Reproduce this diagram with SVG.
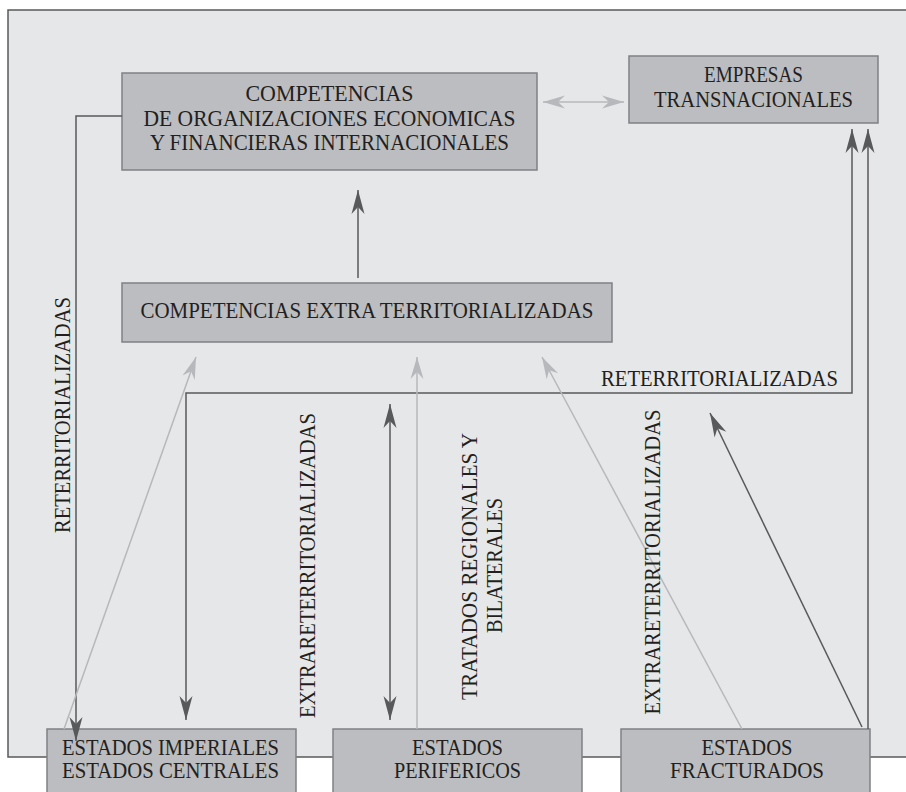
<svg xmlns="http://www.w3.org/2000/svg" width="906" height="792" viewBox="0 0 906 792">
<style>
.panel{fill:#e6e7e8;stroke:#58595b;stroke-width:1.5}
.box{fill:#bcbdc0;stroke:#808184;stroke-width:1.5}
.t{font-family:"Liberation Serif","Times New Roman",serif;font-size:22.5px;fill:#231f20;text-anchor:middle}
.dark{fill:none;stroke:#58595b;stroke-width:1.5}
.light{fill:none;stroke:#b7b8bb;stroke-width:1.5}
</style>
<defs>
<marker id="ad" markerUnits="userSpaceOnUse" markerWidth="26" markerHeight="14" viewBox="-25 -7 26 14" refX="0" refY="0" orient="auto-start-reverse">
<path d="M0,0 L-24,-6.5 L-17,0 L-24,6.5 Z" fill="#58595b"/>
</marker>
<marker id="al" markerUnits="userSpaceOnUse" markerWidth="26" markerHeight="14" viewBox="-25 -7 26 14" refX="0" refY="0" orient="auto-start-reverse">
<path d="M0,0 L-22,-6.5 L-15,0 L-22,6.5 Z" fill="#b7b8bb"/>
</marker>
</defs>
<rect x="0" y="0" width="906" height="792" fill="#ffffff"/>
<rect class="panel" x="8" y="10" width="910" height="747"/>

<g id="competencias-org">
<rect class="box" x="122" y="73" width="415" height="97"/>
<text class="t" x="329.5" y="101" textLength="168" lengthAdjust="spacingAndGlyphs">COMPETENCIAS</text>
<text class="t" x="329.5" y="126" textLength="372" lengthAdjust="spacingAndGlyphs">DE ORGANIZACIONES ECONOMICAS</text>
<text class="t" x="329.5" y="150" textLength="359" lengthAdjust="spacingAndGlyphs">Y FINANCIERAS INTERNACIONALES</text>
</g>
<g id="empresas">
<rect class="box" x="629" y="56" width="249" height="67"/>
<text class="t" x="753.5" y="82" textLength="99" lengthAdjust="spacingAndGlyphs">EMPRESAS</text>
<text class="t" x="753.5" y="107" textLength="199" lengthAdjust="spacingAndGlyphs">TRANSNACIONALES</text>
</g>
<g id="competencias-extra">
<rect class="box" x="122" y="283" width="490" height="59"/>
<text class="t" x="367" y="318" textLength="453" lengthAdjust="spacingAndGlyphs">COMPETENCIAS EXTRA TERRITORIALIZADAS</text>
</g>
<g id="estados-imperiales">
<rect class="box" x="47" y="729" width="249" height="75"/>
<text class="t" x="170.5" y="755" textLength="217" lengthAdjust="spacingAndGlyphs">ESTADOS IMPERIALES</text>
<text class="t" x="170.5" y="778" textLength="217" lengthAdjust="spacingAndGlyphs">ESTADOS CENTRALES</text>
</g>
<g id="estados-perifericos">
<rect class="box" x="333" y="729" width="249" height="75"/>
<text class="t" x="457.5" y="755" textLength="91" lengthAdjust="spacingAndGlyphs">ESTADOS</text>
<text class="t" x="457.5" y="778" textLength="127" lengthAdjust="spacingAndGlyphs">PERIFERICOS</text>
</g>
<g id="estados-fracturados">
<rect class="box" x="621" y="729" width="249" height="75"/>
<text class="t" x="747" y="755" textLength="91" lengthAdjust="spacingAndGlyphs">ESTADOS</text>
<text class="t" x="747" y="778" textLength="154" lengthAdjust="spacingAndGlyphs">FRACTURADOS</text>
</g>

<g id="connectors">
<path class="light" d="M543,102 H624" marker-start="url(#al)" marker-end="url(#al)"/>
<path class="dark" d="M358,278 V190" marker-end="url(#ad)"/>
<path class="dark" d="M122,116 H76 V741" marker-end="url(#ad)"/>
<path class="dark" d="M186,720 V393 H852 V129" marker-start="url(#ad)" marker-end="url(#ad)"/>
<path class="dark" d="M868,729 V129" marker-end="url(#ad)"/>
<path class="dark" d="M862,727 L710,413" marker-end="url(#ad)"/>
<path class="dark" d="M390,720 V404" marker-start="url(#ad)" marker-end="url(#ad)"/>
<path class="light" d="M64,729 L196,357" marker-end="url(#al)"/>
<path class="light" d="M417,729 V357" marker-end="url(#al)"/>
<path class="light" d="M742,729 L542,357" marker-end="url(#al)"/>
</g>

<g id="labels">
<text class="t" transform="translate(70,415) rotate(-90)" textLength="236" lengthAdjust="spacingAndGlyphs">RETERRITORIALIZADAS</text>
<text class="t" x="719.5" y="386" textLength="237" lengthAdjust="spacingAndGlyphs">RETERRITORIALIZADAS</text>
<text class="t" transform="translate(315,565.5) rotate(-90)" textLength="305" lengthAdjust="spacingAndGlyphs">EXTRARETERRITORIALIZADAS</text>
<text class="t" transform="translate(477,566.5) rotate(-90)" textLength="267" lengthAdjust="spacingAndGlyphs">TRATADOS REGIONALES Y</text>
<text class="t" transform="translate(502,565.5) rotate(-90)" textLength="135" lengthAdjust="spacingAndGlyphs">BILATERALES</text>
<text class="t" transform="translate(660,562) rotate(-90)" textLength="305" lengthAdjust="spacingAndGlyphs">EXTRARETERRITORIALIZADAS</text>
</g>
</svg>
